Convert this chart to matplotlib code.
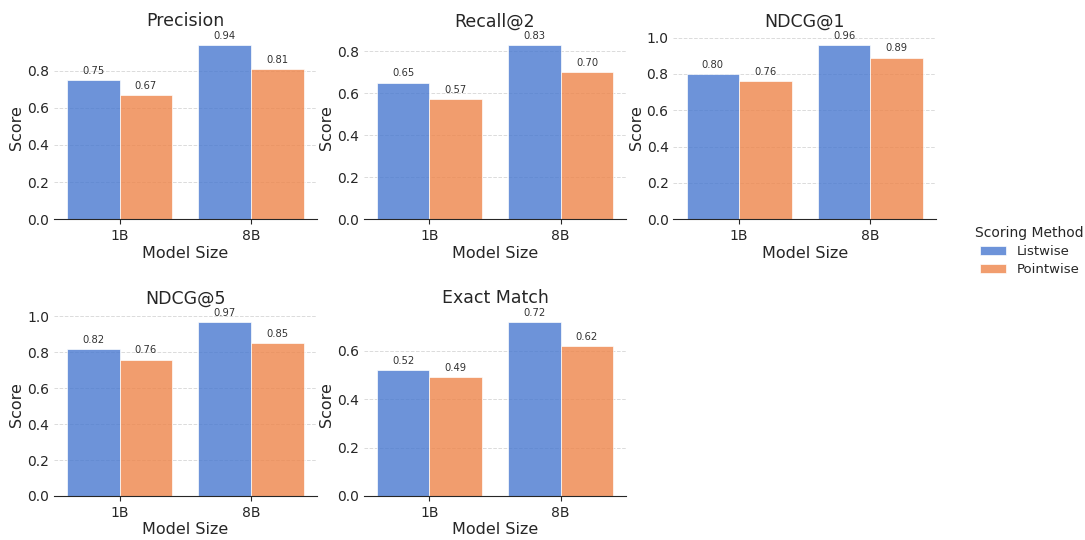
from matplotlib import pyplot as plt
import numpy as np

metrics = ['Precision', 'Recall@2', 'NDCG@1', 'NDCG@5', 'Exact Match']
sizes = ['1B', '8B']
methods = ['Listwise', 'Pointwise']

listwise = [[0.75, 0.94], [0.65, 0.83], [0.80, 0.96], [0.82, 0.97], [0.52, 0.72]]
pointwise = [[0.67, 0.81], [0.57, 0.70], [0.76, 0.89], [0.76, 0.85], [0.49, 0.62]]

colors = ['#4878d0', '#ee854a']
txt = '#262626'

plt.rcParams['font.family'] = 'DejaVu Sans'
plt.rcParams['text.color'] = txt
plt.rcParams['axes.labelcolor'] = txt
plt.rcParams['xtick.color'] = txt
plt.rcParams['ytick.color'] = txt

fig, axes = plt.subplots(2, 3, figsize=(10.85, 5.4), dpi=100)
fig.subplots_adjust(left=0.0498, right=0.8627, top=0.933, bottom=0.0815,
                    wspace=0.179, hspace=0.514)

x = np.arange(len(sizes))
w = 0.4
handles = []
for i, ax in enumerate(axes.flat):
    if i >= len(metrics):
        ax.set_visible(False)
        continue
    series = [listwise[i], pointwise[i]]
    for j, vals in enumerate(series):
        bars = ax.bar(x + (j - 0.5) * w, vals, w, color=colors[j], alpha=0.8,
                      edgecolor='white', linewidth=0.6, label=methods[j], zorder=2)
        if i == 0:
            handles.append(bars)
        for b, v in zip(bars, vals):
            ax.annotate('%.2f' % v, (b.get_x() + b.get_width() / 2, v),
                        xytext=(0, 3), textcoords='offset points',
                        ha='center', va='bottom', fontsize=7.2, color='#333333')
    ax.set_xlim(-0.5, 1.5)
    ax.set_xticks(x)
    ax.set_xticklabels(sizes)
    ax.set_title(metrics[i], fontsize=12.5, pad=7)
    ax.set_xlabel('Model Size', fontsize=11.5, labelpad=2)
    ax.set_ylabel('Score', fontsize=11.5, labelpad=2)
    ax.tick_params(axis='both', labelsize=10)
    ax.tick_params(axis='y', length=0)
    ax.tick_params(axis='x', length=3.5)
    ax.grid(axis='y', linestyle='--', color='#cccccc', alpha=0.7, linewidth=0.7, zorder=0)
    ax.set_axisbelow(True)
    for s in ['top', 'right', 'left']:
        ax.spines[s].set_visible(False)
    ax.spines['bottom'].set_color('#262626')

leg = fig.legend(handles, methods, title='Scoring Method', loc='center left',
                 bbox_to_anchor=(0.888, 0.535), frameon=False, fontsize=9.5,
                 title_fontsize=10, handlelength=2.0, labelspacing=0.4)

fig.savefig('out.png', dpi=100)
